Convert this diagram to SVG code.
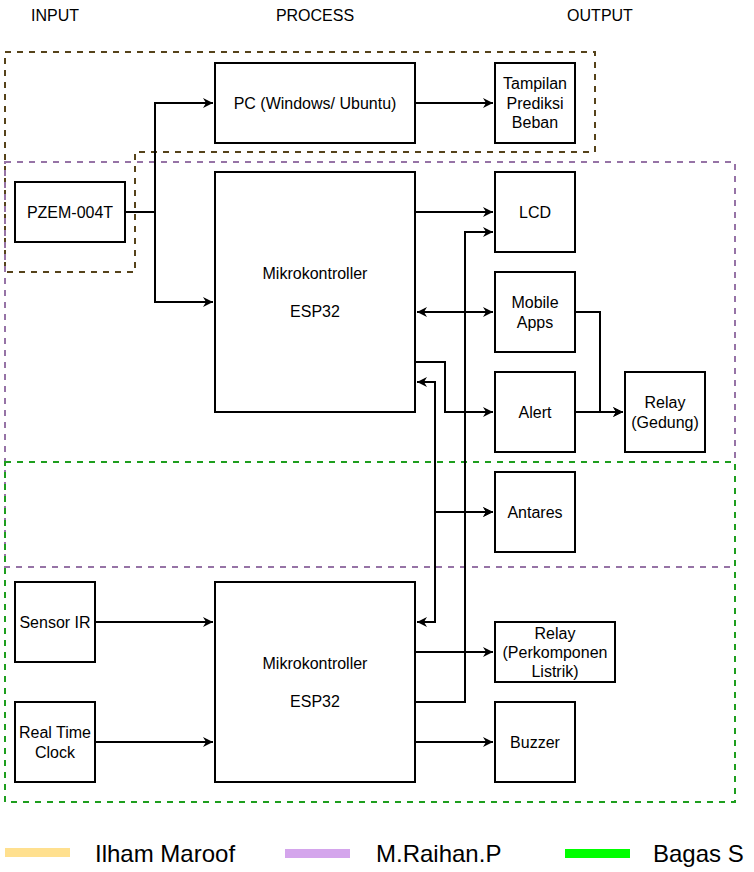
<svg xmlns="http://www.w3.org/2000/svg" width="754" height="872" viewBox="0 0 754 872">
<defs>
<marker id="ah" viewBox="0 0 10 10" refX="10" refY="5" markerWidth="10" markerHeight="10" markerUnits="userSpaceOnUse" orient="auto-start-reverse">
<path d="M0,0 L10,5 L0,10 L3,5 Z" fill="#000"/>
</marker>
<style>
.n rect{fill:#fff;stroke:#000;stroke-width:2}
.t{font-family:"Liberation Sans",Arial,sans-serif;font-size:16px;fill:#000;text-anchor:middle}
.e path{fill:none;stroke:#000;stroke-width:2}
.a{marker-end:url(#ah)}
.b{marker-start:url(#ah);marker-end:url(#ah)}
.g{fill:none;stroke-width:2;stroke-dasharray:6 6}
.lg{font-family:"Liberation Sans",Arial,sans-serif;font-size:24px;fill:#000}
</style>
</defs>
<rect width="754" height="872" fill="#fff"/>

<g id="groups">
<path class="g" stroke="#56431A" d="M5,52 H595 V152 H135 V272 H5 Z"/>
<rect class="g" stroke="#9673A6" x="5" y="162" width="730" height="405"/>
<rect class="g" stroke="#1E9E1E" x="5" y="462" width="730" height="340"/>
</g>

<g id="headers">
<text class="t" x="55" y="21">INPUT</text>
<text class="t" x="315" y="21">PROCESS</text>
<text class="t" x="600" y="21">OUTPUT</text>
</g>

<g class="e" id="connectors">
<path class="a" d="M125,212 H155 V103 H213"/>
<path class="a" d="M125,212 H155 V302 H213"/>
<path class="a" d="M415,103 H493"/>
<path class="a" d="M415,212 H493"/>
<path class="a" d="M415,702 H465 V232 H493"/>
<path class="b" d="M417,312 H493"/>
<path class="a" d="M415,362 H445 V412 H493"/>
<path class="b" d="M417,382 H435 V512 H493"/>
<path class="b" d="M417,622 H435 V512 H493"/>
<path class="a" d="M415,652 H493"/>
<path class="a" d="M415,742 H493"/>
<path class="a" d="M95,622 H213"/>
<path class="a" d="M95,742 H213"/>
<path class="a" d="M575,312 H600 V412 H623"/>
<path class="a" d="M575,412 H623"/>
</g>

<g class="n" id="pzem"><rect x="15" y="182" width="110" height="60"/><text class="t" x="70" y="218">PZEM-004T</text></g>
<g class="n" id="pc"><rect x="215" y="63" width="200" height="80"/><text class="t" x="315" y="109">PC (Windows/ Ubuntu)</text></g>
<g class="n" id="tampilan"><rect x="495" y="63" width="80" height="80"/><text class="t" x="535" y="89">Tampilan</text><text class="t" x="535" y="109">Prediksi</text><text class="t" x="535" y="128">Beban</text></g>
<g class="n" id="esp32a"><rect x="215" y="172" width="200" height="240"/><text class="t" x="315" y="279">Mikrokontroller</text><text class="t" x="315" y="317">ESP32</text></g>
<g class="n" id="lcd"><rect x="495" y="172" width="80" height="80"/><text class="t" x="535" y="218">LCD</text></g>
<g class="n" id="mobile"><rect x="495" y="272" width="80" height="80"/><text class="t" x="535" y="308">Mobile</text><text class="t" x="535" y="328">Apps</text></g>
<g class="n" id="alert"><rect x="495" y="372" width="80" height="80"/><text class="t" x="535" y="418">Alert</text></g>
<g class="n" id="relay-gedung"><rect x="625" y="372" width="80" height="80"/><text class="t" x="665" y="408">Relay</text><text class="t" x="665" y="428">(Gedung)</text></g>
<g class="n" id="antares"><rect x="495" y="472" width="80" height="80"/><text class="t" x="535" y="518">Antares</text></g>
<g class="n" id="sensor-ir"><rect x="15" y="582" width="80" height="80"/><text class="t" x="55" y="628">Sensor IR</text></g>
<g class="n" id="rtc"><rect x="15" y="702" width="80" height="80"/><text class="t" x="55" y="738">Real Time</text><text class="t" x="55" y="758">Clock</text></g>
<g class="n" id="esp32b"><rect x="215" y="582" width="200" height="200"/><text class="t" x="315" y="669">Mikrokontroller</text><text class="t" x="315" y="707">ESP32</text></g>
<g class="n" id="relay-komponen"><rect x="495" y="622" width="120" height="60"/><text class="t" x="555" y="639">Relay</text><text class="t" x="555" y="658">(Perkomponen</text><text class="t" x="555" y="677">Listrik)</text></g>
<g class="n" id="buzzer"><rect x="495" y="702" width="80" height="80"/><text class="t" x="535" y="748">Buzzer</text></g>

<g id="legend">
<rect x="5" y="848" width="65" height="9" fill="#FFE08F"/>
<text class="lg" x="95" y="862">Ilham Maroof</text>
<rect x="285" y="849" width="65" height="9" fill="#D4A5EC"/>
<text class="lg" x="376" y="862">M.Raihan.P</text>
<rect x="565" y="849" width="65" height="9" fill="#00FF00"/>
<text class="lg" x="653" y="862">Bagas S</text>
</g>
</svg>
